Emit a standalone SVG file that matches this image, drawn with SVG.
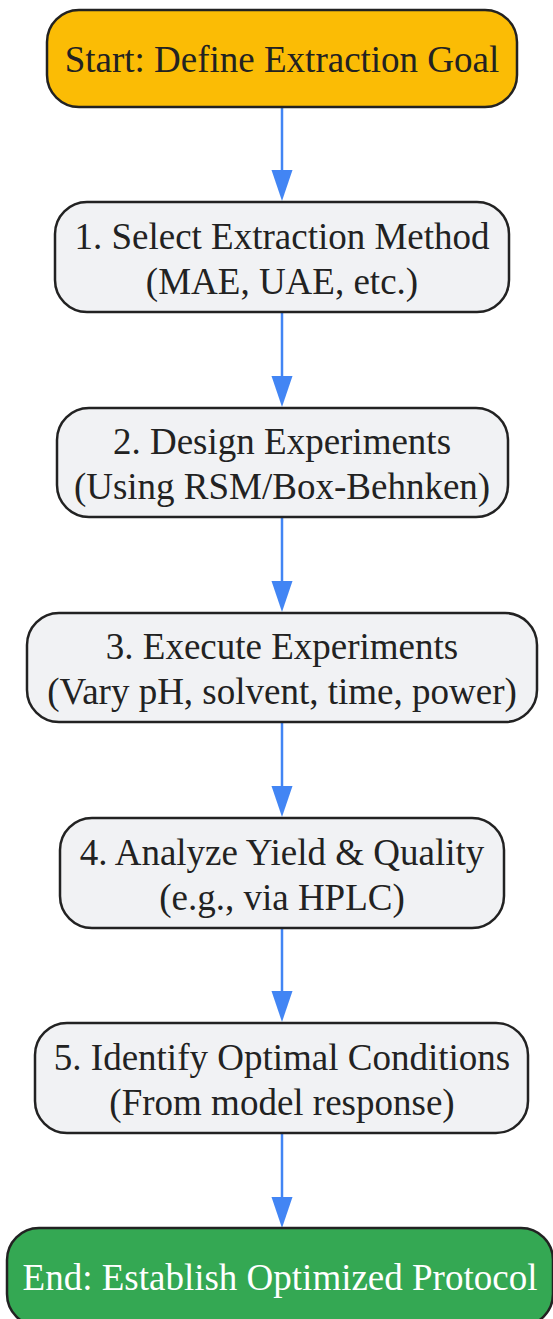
<svg xmlns="http://www.w3.org/2000/svg" width="553" height="1319" viewBox="0 0 553 1319">
<defs>
<style>
.n rect{stroke:#222;stroke-width:2.5}
.g rect{fill:#f1f2f4}
text{font-family:"Liberation Serif","Times New Roman",serif;font-size:37px;fill:#222;text-anchor:middle}
.e text{fill:#fff}
.c line{stroke:#4285f4;stroke-width:2.5}
.c path{fill:#4285f4}
</style>
</defs>
<g class="c" id="connectors">
<line x1="282" y1="107" x2="282" y2="175"/><path d="M271.5,170 L292.5,170 L282,201 Z"/>
<line x1="282" y1="312" x2="282" y2="380"/><path d="M271.5,376 L292.5,376 L282,407 Z"/>
<line x1="282" y1="517" x2="282" y2="585"/><path d="M271.5,581 L292.5,581 L282,612 Z"/>
<line x1="282" y1="722" x2="282" y2="790"/><path d="M271.5,786 L292.5,786 L282,817 Z"/>
<line x1="282" y1="928" x2="282" y2="995"/><path d="M271.5,991 L292.5,991 L282,1022 Z"/>
<line x1="282" y1="1133" x2="282" y2="1200"/><path d="M271.5,1197 L292.5,1197 L282,1228 Z"/>
</g>
<g class="n" id="start"><rect x="47" y="10" width="470" height="97" rx="32" fill="#fbbc05"/><text x="282" y="72">Start: Define Extraction Goal</text></g>
<g class="n g" id="n1"><rect x="55" y="202" width="454" height="110" rx="32"/><text x="282" y="249">1. Select Extraction Method</text><text x="282" y="294">(MAE, UAE, etc.)</text></g>
<g class="n g" id="n2"><rect x="57" y="408" width="451" height="109" rx="32"/><text x="282" y="454">2. Design Experiments</text><text x="282" y="499">(Using RSM/Box-Behnken)</text></g>
<g class="n g" id="n3"><rect x="27" y="613" width="510" height="109" rx="32"/><text x="282" y="659">3. Execute Experiments</text><text x="282" y="704">(Vary pH, solvent, time, power)</text></g>
<g class="n g" id="n4"><rect x="60" y="818" width="444" height="110" rx="32"/><text x="282" y="865">4. Analyze Yield &amp; Quality</text><text x="282" y="910">(e.g., via HPLC)</text></g>
<g class="n g" id="n5"><rect x="35" y="1023" width="493" height="110" rx="32"/><text x="282" y="1070">5. Identify Optimal Conditions</text><text x="282" y="1115">(From model response)</text></g>
<g class="n e" id="end"><rect x="7" y="1228" width="546" height="98" rx="32" fill="#34a853"/><text x="280" y="1290">End: Establish Optimized Protocol</text></g>
</svg>
